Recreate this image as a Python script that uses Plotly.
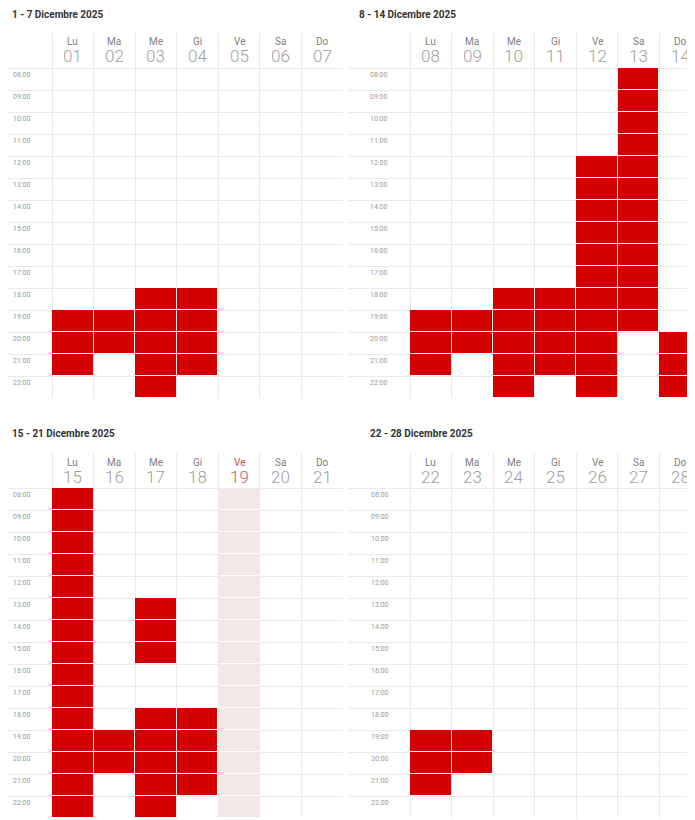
import plotly.graph_objects as go
import numpy as np

# ---------------- data ----------------
hours = [8, 9, 10, 11, 12, 13, 14, 15, 16, 17, 18, 19, 20, 21, 22]
hour_labels = ["08:00", "09:00", "10:00", "11:00", "12:00", "13:00", "14:00",
               "15:00", "16:00", "17:00", "18:00", "19:00", "20:00", "21:00", "22:00"]
day_abbr = ["Lu", "Ma", "Me", "Gi", "Ve", "Sa", "Do"]

week_titles = ["1 - 7 Dicembre 2025", "8 - 14 Dicembre 2025",
               "15 - 21 Dicembre 2025", "22 - 28 Dicembre 2025"]

week1_days = ["01", "02", "03", "04", "05", "06", "07"]
week2_days = ["08", "09", "10", "11", "12", "13", "14"]
week3_days = ["15", "16", "17", "18", "19", "20", "21"]
week4_days = ["22", "23", "24", "25", "26", "27", "28"]

# booked hours per day (Lu..Do)
week1_booked = [[19, 20, 21], [19, 20], [18, 19, 20, 21, 22], [18, 19, 20, 21], [], [], []]
week2_booked = [[19, 20, 21], [19, 20], [18, 19, 20, 21, 22], [18, 19, 20, 21],
                [12, 13, 14, 15, 16, 17, 18, 19, 20, 21, 22],
                [8, 9, 10, 11, 12, 13, 14, 15, 16, 17, 18, 19],
                [20, 21, 22]]
week3_booked = [[8, 9, 10, 11, 12, 13, 14, 15, 16, 17, 18, 19, 20, 21, 22],
                [19, 20],
                [13, 14, 15, 18, 19, 20, 21, 22],
                [18, 19, 20, 21], [], [], []]
week4_booked = [[19, 20, 21], [19, 20], [], [], [], [], []]

# holiday columns (highlighted)
week1_holiday = [False] * 7
week2_holiday = [False] * 7
week3_holiday = [False, False, False, False, True, False, False]
week4_holiday = [False] * 7

# ---------------- styling / layout ----------------
OFF = 8  # page body margin
W, H = 695 - OFF, 820 - OFF
RED = "#d40000"
PINK = "#f4e7e7"
GRID = "#e9e9e9"
FONT = "Roboto"

weeks = [
    (week_titles[0], week1_days, week1_booked, week1_holiday),
    (week_titles[1], week2_days, week2_booked, week2_holiday),
    (week_titles[2], week3_days, week3_booked, week3_holiday),
    (week_titles[3], week4_days, week4_booked, week4_holiday),
]

colw = 41.57
# screen-pixel geometry:
# (dom_left, grid_left, dom_right, y_top, grid_top, y_bottom, title_x, title_y, label_left)
panels = [
    (8, 52, 343, 33, 68, 398, 10, 14, 10),
    (348, 410, 695, 33, 68, 398, 357, 14, 367),
    (8, 52, 343, 453, 488, 818, 10, 433, 10),
    (348, 410, 695, 453, 488, 818, 368, 433, 368),
]

fig = go.Figure()
annotations = []
layout = {}

for i, ((title, daynums, booked, holiday), p) in enumerate(zip(weeks, panels)):
    dl, gl, dr, yt, gt, yb, tx, ty, ll = [v - OFF for v in p]
    row_h = (yb - gt) / 15.0
    n = i + 1
    xa = "x" if n == 1 else f"x{n}"
    ya = "y" if n == 1 else f"y{n}"
    xkey = "xaxis" if n == 1 else f"xaxis{n}"
    ykey = "yaxis" if n == 1 else f"yaxis{n}"

    # holiday shading
    zh = np.full((len(hours), 7), np.nan)
    for d in range(7):
        if holiday[d]:
            zh[:, d] = 1
    if np.any(~np.isnan(zh)):
        fig.add_trace(go.Heatmap(z=zh, x=list(range(7)), y=hours, xaxis=xa, yaxis=ya,
                                 colorscale=[[0, PINK], [1, PINK]], zmin=0, zmax=1,
                                 showscale=False, xgap=1, ygap=1, hoverinfo="skip"))

    z = np.full((len(hours), 7), np.nan)
    for d in range(7):
        for h in booked[d]:
            z[hours.index(h), d] = 1
    fig.add_trace(go.Heatmap(z=z, x=list(range(7)), y=hours, xaxis=xa, yaxis=ya,
                             colorscale=[[0, RED], [1, RED]], zmin=0, zmax=1,
                             showscale=False, xgap=1, ygap=1, hoverinfo="skip"))

    xmin = -0.5 - (gl - dl) / colw
    xmax = -0.5 + (dr - gl) / colw
    ytop = 7.5 - (gt - yt) / row_h
    layout[xkey] = dict(
        domain=[dl / W, min(dr / W, 1.0)], range=[xmin, xmax], anchor=ya,
        showticklabels=False, showgrid=False, zeroline=False, ticks="",
        fixedrange=True,
        minor=dict(tickmode="array", tickvals=[k - 0.5 for k in range(8)],
                   showgrid=True, gridcolor=GRID, gridwidth=1, ticks=""),
    )
    layout[ykey] = dict(
        domain=[max(1 - yb / H, 0.0), 1 - yt / H], range=[22.5, ytop], anchor=xa,
        tickmode="array", tickvals=[h - 0.2 for h in hours], ticktext=hour_labels,
        tickfont=dict(family=FONT, size=7, color="#9a9a9a"),
        ticklabelposition="inside", ticklabelstandoff=ll - dl,
        showgrid=False, zeroline=False, ticks="",
        fixedrange=True,
        minor=dict(tickmode="array", tickvals=[h - 0.5 for h in hours] + [22.5],
                   showgrid=True, gridcolor=GRID, gridwidth=1, ticks=""),
    )

    # title
    annotations.append(dict(text=f"<b>{title}</b>", x=tx / W, y=1 - ty / H,
                            xref="paper", yref="paper", xanchor="left", yanchor="middle",
                            showarrow=False, font=dict(family=FONT, size=10, color="#333333")))
    # day headers
    for d in range(7):
        col = "#d04a4a" if holiday[d] else "#808080"
        coln = "#d65a5a" if holiday[d] else "#a0a0a0"
        annotations.append(dict(text=day_abbr[d], x=d, y=7.5 - 26 / row_h, xref=xa, yref=ya,
                                showarrow=False, xanchor="center", yanchor="middle",
                                font=dict(family=FONT, size=10, color=col)))
        annotations.append(dict(text=daynums[d], x=d, y=7.5 - 11.5 / row_h, xref=xa, yref=ya,
                                showarrow=False, xanchor="center", yanchor="middle",
                                font=dict(family=FONT, size=17, color=coln, weight=300)))

fig.update_layout(
    width=W, height=H, autosize=False,
    margin=dict(l=0, r=0, t=0, b=0, pad=0),
    paper_bgcolor="white", plot_bgcolor="white",
    showlegend=False, annotations=annotations,
    **layout,
)

fig.write_html("out.html")
